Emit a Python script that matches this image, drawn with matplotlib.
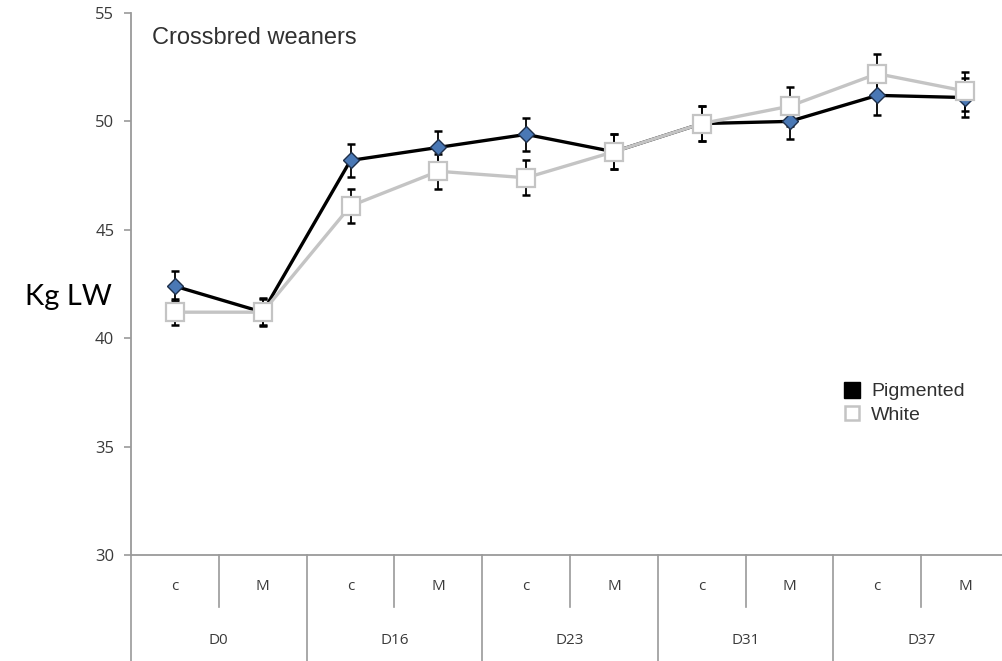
import matplotlib
matplotlib.use("Agg")
import matplotlib.pyplot as plt
from matplotlib.lines import Line2D
from matplotlib.transforms import blended_transform_factory

# Live weight (kg) of crossbred weaners by day and treatment
days = ["D0", "D16", "D23", "D31", "D37"]
treatments = ["c", "M"]

pigmented_mean = [42.4, 41.2, 48.2, 48.8, 49.4, 48.6, 49.9, 50.0, 51.2, 51.1]
pigmented_err = [0.7, 0.65, 0.75, 0.75, 0.75, 0.8, 0.8, 0.8, 0.9, 0.9]
white_mean = [41.2, 41.2, 46.1, 47.7, 47.4, 48.6, 49.9, 50.7, 52.2, 51.4]
white_err = [0.6, 0.6, 0.8, 0.8, 0.8, 0.8, 0.8, 0.9, 0.9, 0.9]

y_ticks = [30, 35, 40, 45, 50, 55]

W, H = 1002, 661
fig = plt.figure(figsize=(W / 100, H / 100), dpi=100)
fig.patch.set_facecolor("white")

left_px, right_px, top_px, bottom_px = 131, 1009, 13, 555
ax = fig.add_axes([left_px / W, (H - bottom_px) / H,
                   (right_px - left_px) / W, (bottom_px - top_px) / H])

n = len(days) * len(treatments)
x = [i + 0.5 for i in range(n)]

axis_grey = "#9a9a9a"
text_grey = "#3a3a3a"

# Pigmented series: black line, blue diamonds
ax.errorbar(x, pigmented_mean, yerr=pigmented_err, fmt="none", ecolor="black",
            elinewidth=1.3, capsize=3, capthick=1.8, zorder=3)
ax.plot(x, pigmented_mean, color="black", lw=2.4, zorder=4)
ax.plot(x, pigmented_mean, ls="none", marker="D", ms=8.5, mfc="#4a78b5",
        mec="#1e2f4a", mew=1.0, zorder=5)

# White series: light grey line, white squares
ax.errorbar(x, white_mean, yerr=white_err, fmt="none", ecolor="black",
            elinewidth=1.3, capsize=3, capthick=1.8, zorder=3)
ax.plot(x, white_mean, color="#c4c4c4", lw=2.4, zorder=6)
ax.plot(x, white_mean, ls="none", marker="s", ms=12.5, mfc="white",
        mec="#c4c4c4", mew=1.6, zorder=7)

ax.set_xlim(0, n)
ax.set_ylim(30, 55)
ax.set_yticks(y_ticks)
ax.set_xticks([])
for s in ("top", "right"):
    ax.spines[s].set_visible(False)
for s in ("left", "bottom"):
    ax.spines[s].set_color(axis_grey)
    ax.spines[s].set_linewidth(1.3)
ax.tick_params(axis="y", direction="out", length=5, width=1.2, color=axis_grey,
               labelsize=12, labelcolor=text_grey, pad=7)
for lab in ax.get_yticklabels():
    lab.set_family("Open Sans")

# Two-level category table under the axis
trans = blended_transform_factory(ax.transData, ax.transAxes)
axes_h = bottom_px - top_px
inner_bottom = -(607 - bottom_px) / axes_h
outer_bottom = -(H + 5 - bottom_px) / axes_h
for k in range(n + 1):
    y0 = outer_bottom if k % 2 == 0 else inner_bottom
    ax.plot([k, k], [0, y0], transform=trans, color=axis_grey, lw=1.2,
            clip_on=False)
for i in range(n):
    ax.text(i + 0.5, -(587 - bottom_px) / axes_h, treatments[i % 2],
            transform=trans, ha="center", va="center", fontsize=11,
            color=text_grey, family="Open Sans")
for g, d in enumerate(days):
    ax.text(2 * g + 1, -(640 - bottom_px) / axes_h, d, transform=trans,
            ha="center", va="center", fontsize=11, color=text_grey,
            family="Open Sans")

# Title inside the plot area
fig.text(152 / W, 1 - 38 / H, "Crossbred weaners", ha="left", va="center",
         fontsize=17, color="#303030", family="Liberation Sans")

# Axis label
fig.text(68 / W, 1 - 297 / H, "Kg LW", ha="center", va="center",
         fontsize=21, color="black", family="Lato")

# Legend
handles = [
    Line2D([], [], ls="none", marker="s", ms=12, mfc="black", mec="black"),
    Line2D([], [], ls="none", marker="s", ms=10.5, mfc="white", mec="#c4c4c4",
           mew=1.8),
]
fig.legend(handles, ["Pigmented", "White"], loc="upper left",
           bbox_to_anchor=(834 / W, 1 - 373 / H), frameon=False,
           handlelength=0.8, handletextpad=0.6, labelspacing=0.3,
           borderpad=0, prop={"family": "Liberation Sans", "size": 14},
           labelcolor="#303030")

fig.savefig("out.png", dpi=100, facecolor="white")
